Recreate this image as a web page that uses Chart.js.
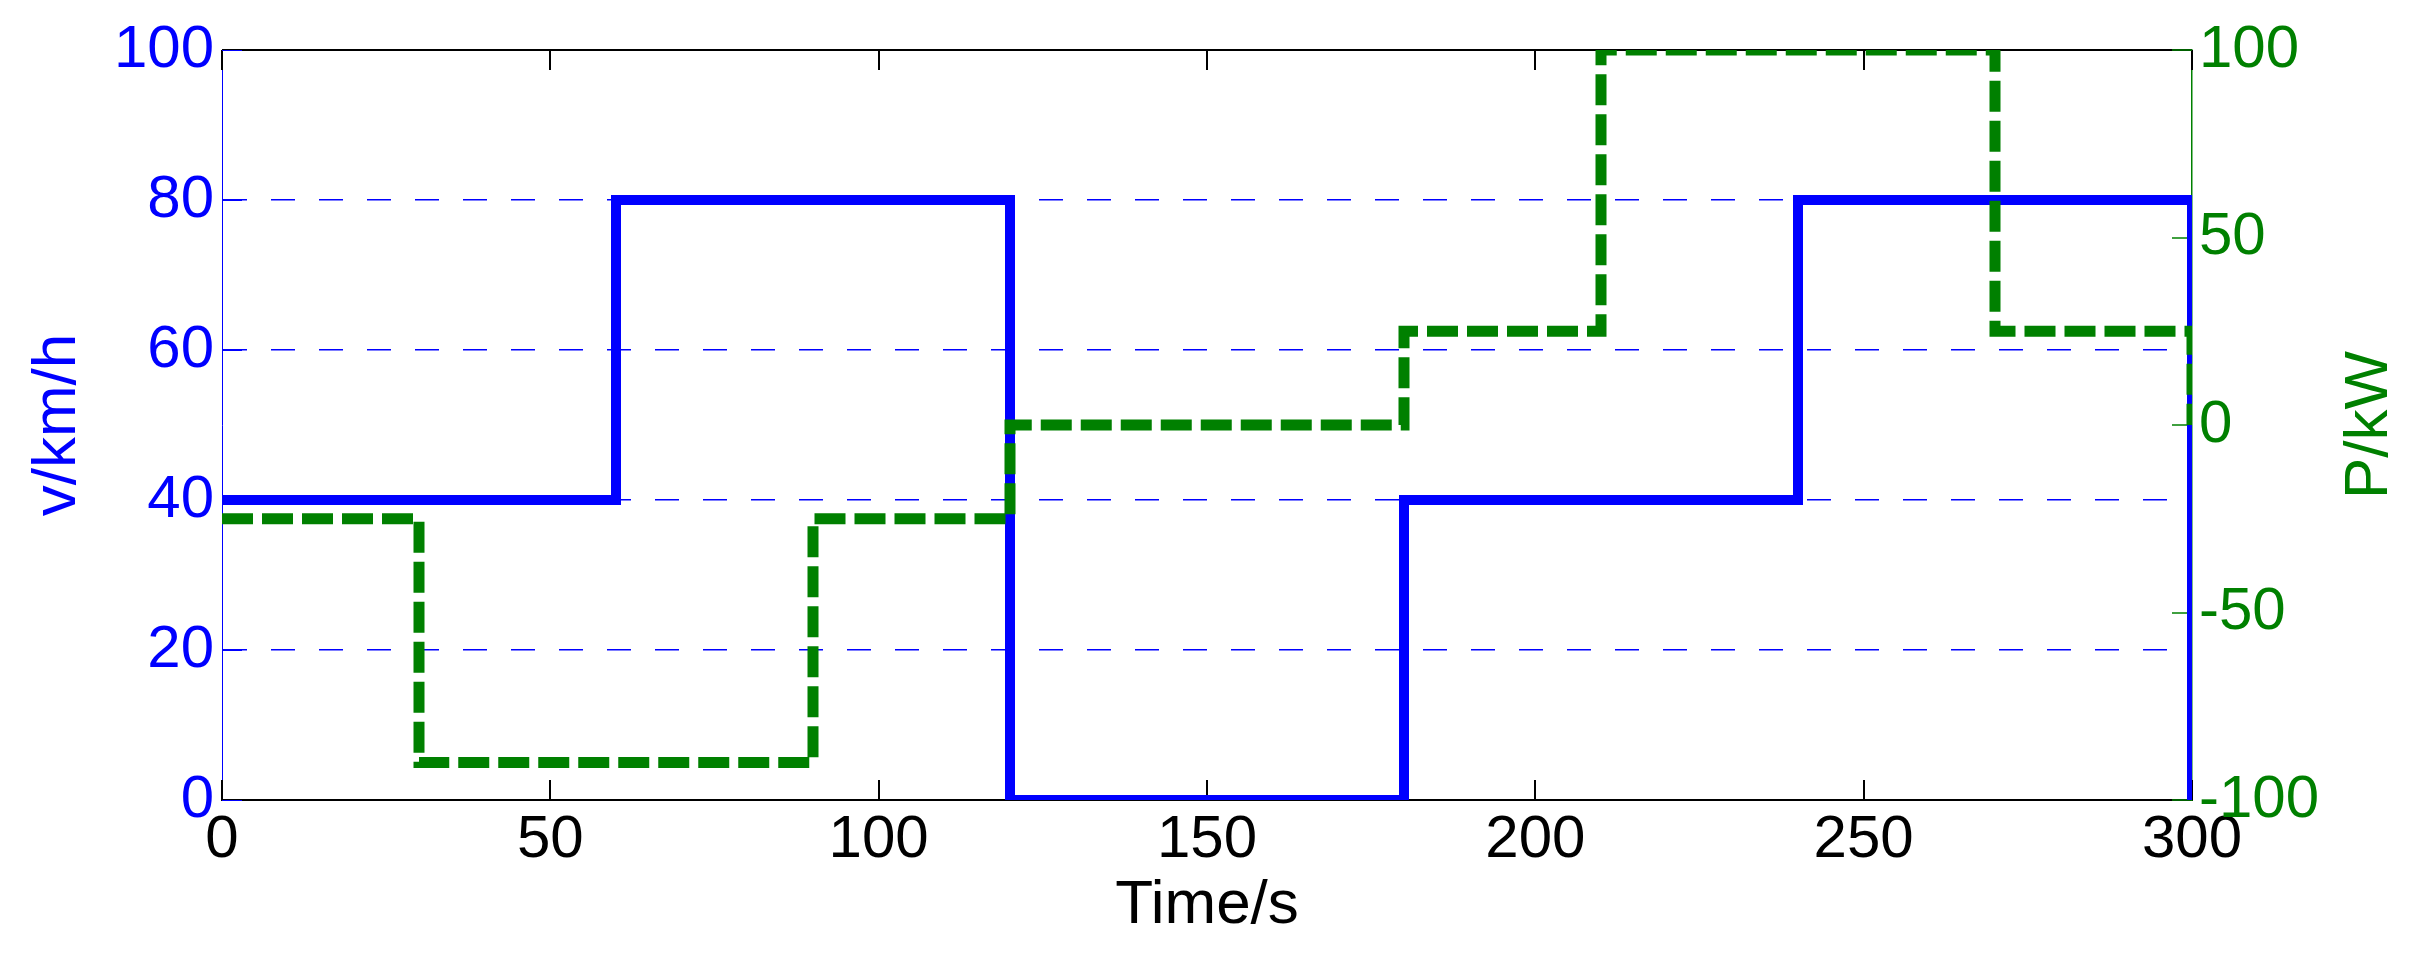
<!DOCTYPE html>
<html>
<head>
<meta charset="utf-8">
<script src="https://cdn.jsdelivr.net/npm/chart.js@4"></script>
<style>
  html, body { margin: 0; padding: 0; background: #fff; }
  #wrap { width: 2427px; height: 954px; }
</style>
</head>
<body>
<div id="wrap"><canvas id="chart"></canvas></div>
<script>
// speed profile (left axis, km/h) - each value holds until the next time
const speedTimes = [0, 60, 120, 180, 240, 300, 300];
const speedValues = [40, 80, 0, 40, 80, 80, 0];

// power profile (right axis, kW)
const powerTimes = [0, 30, 90, 120, 180, 210, 270, 300, 300];
const powerValues = [-25, -90, -25, 0, 25, 100, 25, 25, 0];

const BLUE = '#0000ff';
const GREEN = '#008000';
const FONT = "'Liberation Sans', Arial, sans-serif";

// inside tick marks, top border and the right axis label (reads bottom to top)
const frame = {
    id: 'frame',
    beforeDatasetsDraw(chart) {
        const { ctx, chartArea: a, scales } = chart;
        ctx.save();
        ctx.strokeStyle = '#000';
        ctx.lineWidth = 2;
        ctx.beginPath();
        ctx.moveTo(a.left, a.top);
        ctx.lineTo(a.right, a.top);
        ctx.stroke();

        scales.x.ticks.forEach(t => {
            const px = Math.round(scales.x.getPixelForValue(t.value));
            ctx.beginPath();
            ctx.moveTo(px, a.bottom);
            ctx.lineTo(px, a.bottom - 20);
            ctx.moveTo(px, a.top);
            ctx.lineTo(px, a.top + 20);
            ctx.stroke();
        });

        ctx.lineWidth = 1;
        ctx.strokeStyle = BLUE;
        scales.y.ticks.forEach(t => {
            const py = Math.round(scales.y.getPixelForValue(t.value)) + 0.5;
            ctx.beginPath();
            ctx.moveTo(a.left, py);
            ctx.lineTo(a.left + 20, py);
            ctx.stroke();
        });

        ctx.lineWidth = 1.5;
        ctx.strokeStyle = GREEN;
        scales.y2.ticks.forEach(t => {
            const py = Math.round(scales.y2.getPixelForValue(t.value));
            ctx.beginPath();
            ctx.moveTo(a.right, py);
            ctx.lineTo(a.right - 20, py);
            ctx.stroke();
        });
        ctx.restore();
    },
    afterDraw(chart) {
        const { ctx, chartArea: a } = chart;
        ctx.save();
        ctx.translate(2370, (a.top + a.bottom) / 2);
        ctx.rotate(-Math.PI / 2);
        ctx.fillStyle = GREEN;
        ctx.font = '62px ' + FONT;
        ctx.textAlign = 'center';
        ctx.textBaseline = 'middle';
        ctx.fillText('P/kW', 0, 0);
        ctx.restore();
    }
};

new Chart(document.getElementById('chart'), {
    type: 'line',
    data: {
        datasets: [
            {
                label: 'v',
                data: speedTimes.map((t, i) => ({ x: t, y: speedValues[i] })),
                yAxisID: 'y',
                borderColor: BLUE,
                borderWidth: 10,
                stepped: true,
                pointRadius: 0,
                borderJoinStyle: 'miter',
                borderCapStyle: 'butt',
                order: 2
            },
            {
                label: 'P',
                data: powerTimes.map((t, i) => ({ x: t, y: powerValues[i] })),
                yAxisID: 'y2',
                borderColor: GREEN,
                borderWidth: 11,
                borderDash: [31, 9],
                stepped: true,
                pointRadius: 0,
                borderJoinStyle: 'miter',
                borderCapStyle: 'butt',
                order: 1
            }
        ]
    },
    options: {
        responsive: true,
        maintainAspectRatio: false,
        animation: false,
        layout: { padding: { top: 50, left: 0, right: 0, bottom: 0 } },
        plugins: {
            legend: { display: false },
            tooltip: { enabled: false }
        },
        scales: {
            x: {
                type: 'linear',
                min: 0,
                max: 300,
                afterFit: s => { s.height = 154; },
                ticks: { stepSize: 50, color: '#000', padding: 4, font: { family: FONT, size: 60, lineHeight: 1.2 } },
                grid: { display: false, drawTicks: false },
                border: { display: true, color: '#000', width: 2 },
                title: { display: true, text: 'Time/s', color: '#000', padding: { top: 0, bottom: 11 }, font: { family: FONT, size: 62, lineHeight: 1.2 } }
            },
            y: {
                position: 'left',
                min: 0,
                max: 100,
                afterFit: s => { s.width = 222; },
                ticks: { stepSize: 20, color: BLUE, padding: 8, font: { family: FONT, size: 60, lineHeight: 1.2 } },
                grid: {
                    drawTicks: false,
                    lineWidth: 1.5,
                    color: c => (c.tick && (c.tick.value === 0 || c.tick.value === 100)) ? 'rgba(0,0,0,0)' : BLUE
                },
                border: { display: true, color: BLUE, width: 1, dash: [24, 24] },
                title: { display: true, text: 'v/km/h', color: BLUE, padding: { top: 21, bottom: 0 }, font: { family: FONT, size: 62, lineHeight: 1.2 } }
            },
            y2: {
                position: 'right',
                min: -100,
                max: 100,
                afterFit: s => { s.width = 235; },
                ticks: { stepSize: 50, color: GREEN, padding: 7, font: { family: FONT, size: 60, lineHeight: 1.2 } },
                grid: { display: false, drawTicks: false },
                border: { display: true, color: GREEN, width: 1.5 }
            }
        }
    },
    plugins: [frame]
});
</script>
</body>
</html>
